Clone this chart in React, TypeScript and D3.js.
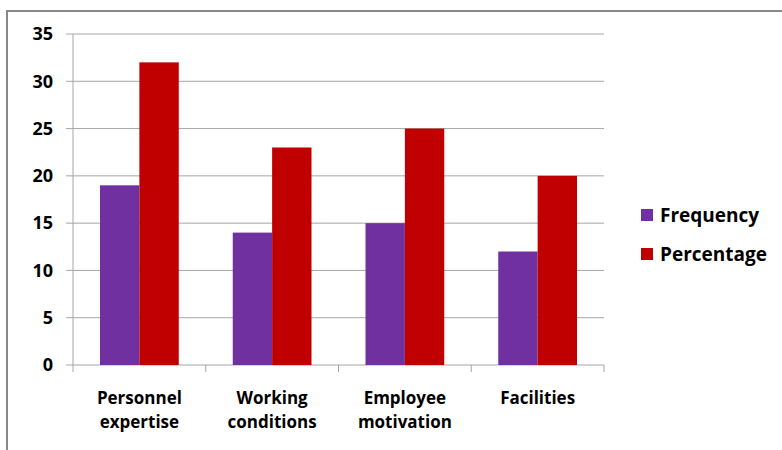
import React from "react";
import * as d3 from "d3";

const categories: string[][] = [
  ["Personnel", "expertise"],
  ["Working", "conditions"],
  ["Employee", "motivation"],
  ["Facilities"],
];
const seriesNames = ["Frequency", "Percentage"];
const frequency = [19, 14, 15, 12];
const percentage = [32, 23, 25, 20];
const yTicks = [0, 5, 10, 15, 20, 25, 30, 35];
const colors = ["#7030A0", "#C00000"];

const W = 782;
const H = 450;
const plot = { left: 73, right: 604, top: 34, bottom: 365 };
const FONT = "'Open Sans', 'DejaVu Sans', sans-serif";

export default function App() {
  const x0 = d3
    .scaleBand<number>()
    .domain(categories.map((_, i) => i))
    .range([plot.left, plot.right])
    .paddingInner(0)
    .paddingOuter(0);
  const inner = d3
    .scaleBand<number>()
    .domain([0, 1])
    .range([27, x0.bandwidth() - 27]);
  const y = d3.scaleLinear().domain([0, 35]).range([plot.bottom, plot.top]);
  const series = [frequency, percentage];

  return (
    <svg
      width={W}
      height={H}
      style={{ position: "absolute", left: 0, top: 0, background: "#fff" }}
      fontFamily={FONT}
    >
      <rect x={0} y={0} width={W} height={H} fill="#fff" />
      <rect x={7} y={11} width={W + 20} height={H + 20} fill="none" stroke="#888" strokeWidth={2} />
      {yTicks.map((t) => (
        <g key={t}>
          {t > 0 && (
            <line x1={plot.left} x2={plot.right} y1={y(t)} y2={y(t)} stroke="#a6a6a6" strokeWidth={1} />
          )}
          <line x1={plot.left - 7} x2={plot.left} y1={y(t)} y2={y(t)} stroke="#a6a6a6" />
          <text
            x={53}
            y={y(t)}
            dy="0.35em"
            textAnchor="end"
            fontSize={18}
            fontWeight={700}
            fill="#000"
          >
            {t}
          </text>
        </g>
      ))}
      <line x1={plot.left} x2={plot.left} y1={plot.top} y2={plot.bottom} stroke="#a6a6a6" />
      <line x1={plot.left} x2={plot.right} y1={plot.bottom} y2={plot.bottom} stroke="#a6a6a6" />
      {categories.map((_, i) => (
        <line
          key={"t" + i}
          x1={(x0(i) as number)}
          x2={(x0(i) as number)}
          y1={plot.bottom}
          y2={plot.bottom + 7}
          stroke="#a6a6a6"
        />
      ))}
      <line x1={plot.right} x2={plot.right} y1={plot.bottom} y2={plot.bottom + 7} stroke="#a6a6a6" />
      {categories.map((_, i) =>
        series.map((s, j) => (
          <rect
            key={i + "-" + j}
            x={(x0(i) as number) + (inner(j) as number)}
            y={y(s[i])}
            width={inner.bandwidth()}
            height={y(0) - y(s[i])}
            fill={colors[j]}
          />
        ))
      )}
      {categories.map((lines, i) => (
        <text
          key={"c" + i}
          x={(x0(i) as number) + x0.bandwidth() / 2}
          textAnchor="middle"
          fontSize={17}
          fontWeight={700}
          fill="#000"
        >
          {lines.map((l, k) => (
            <tspan key={k} x={(x0(i) as number) + x0.bandwidth() / 2} y={404 + k * 24}>
              {l}
            </tspan>
          ))}
        </text>
      ))}
      {seriesNames.map((n, j) => (
        <g key={n}>
          <rect x={641} y={209 + j * 39} width={12} height={12} fill={colors[j]} />
          <text x={660} y={222 + j * 39} fontSize={19} fontWeight={700} fill="#000">
            {n}
          </text>
        </g>
      ))}
    </svg>
  );
}
